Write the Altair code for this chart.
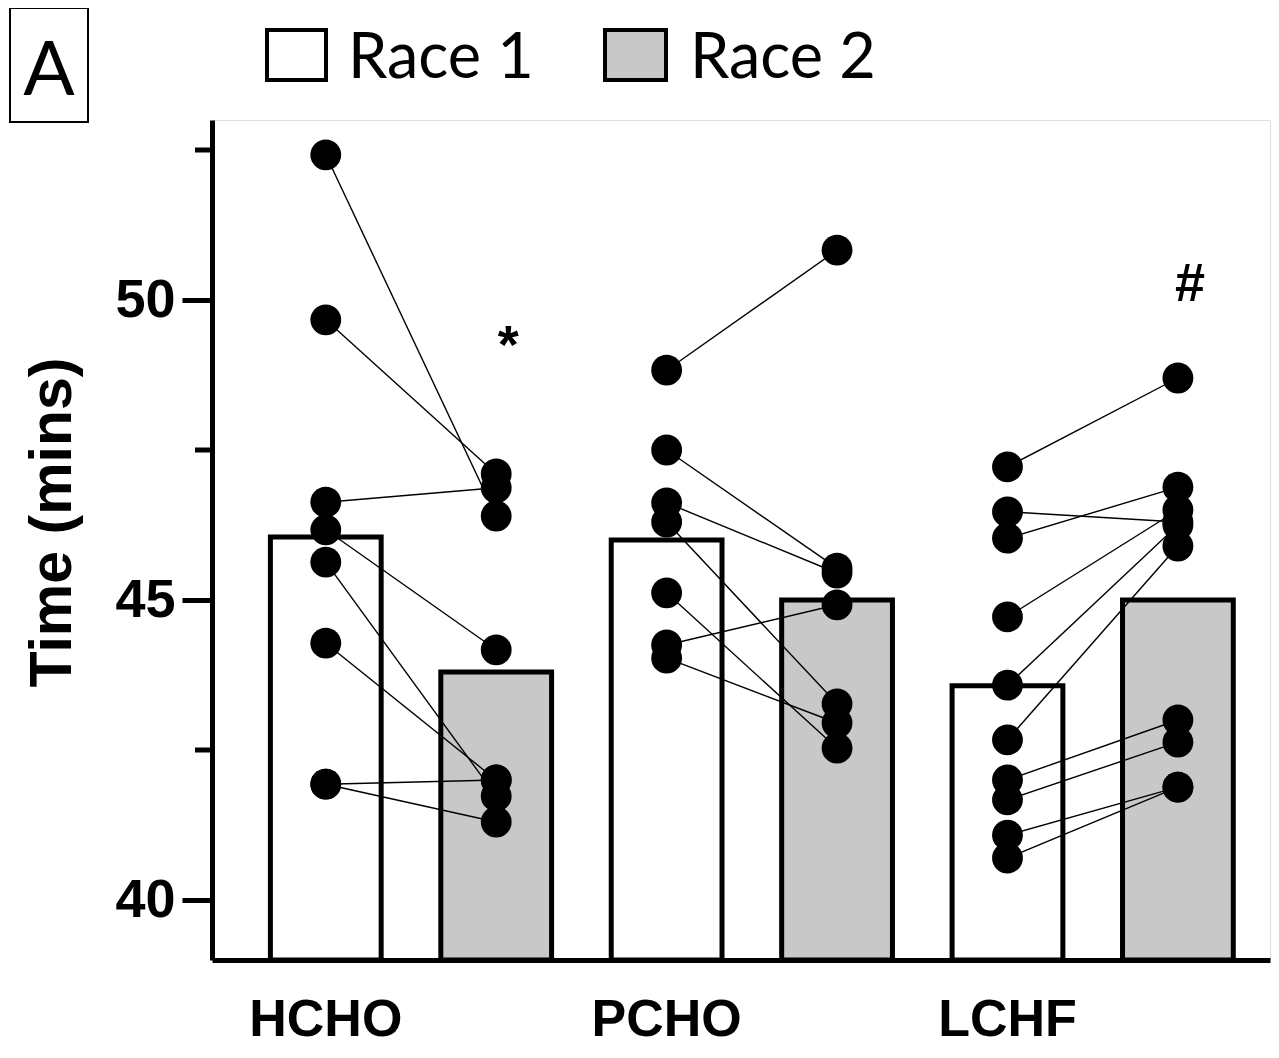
import altair as alt
import pandas as pd

diets = ["HCHO", "PCHO", "LCHF"]
races = ["Race 1", "Race 2"]

# bar heights (group means)
bar_r1 = [46.05, 46.0, 43.57]
bar_r2 = [43.8, 45.0, 45.0]

# individual participants (Race 1 value, paired Race 2 value)
hcho_r1 = [52.42, 49.67, 46.63, 46.17, 45.63, 44.28, 41.93, 41.93]
hcho_r2 = [46.40, 47.10, 46.87, 44.17, 41.73, 42.00, 42.00, 41.30]
pcho_r1 = [48.83, 47.50, 46.62, 46.30, 45.12, 44.25, 44.03]
pcho_r2 = [50.83, 45.53, 45.45, 43.27, 42.53, 44.92, 42.95]
lchf_r1 = [47.22, 46.47, 46.03, 44.72, 43.58, 42.67, 42.00, 41.67, 41.08, 40.70]
lchf_r2 = [48.70, 46.30, 46.88, 46.50, 46.25, 45.90, 43.00, 42.63, 41.88, 41.88]

ann_slot = ["HCHO|Race 2", "LCHF|Race 2"]
ann_text = ["*", "#"]
ann_y = [48.95, 49.98]

major_ticks = [40, 45, 50]
minor_ticks = [42.5, 47.5, 52.5]

slots = [f"{d}|{r}" for d in diets for r in races]

bars = pd.DataFrame({
    "slot": slots,
    "race": [r for d in diets for r in races],
    "value": [v for pair in zip(bar_r1, bar_r2) for v in pair],
})

rows = []
for d, r1, r2 in [("HCHO", hcho_r1, hcho_r2), ("PCHO", pcho_r1, pcho_r2), ("LCHF", lchf_r1, lchf_r2)]:
    for i, (a, b) in enumerate(zip(r1, r2)):
        pid = f"{d}{i}"
        rows.append({"pid": pid, "slot": f"{d}|Race 1", "value": a})
        rows.append({"pid": pid, "slot": f"{d}|Race 2", "value": b})
pts = pd.DataFrame(rows)

ann = pd.DataFrame({"slot": ann_slot, "txt": ann_text, "value": ann_y})
minor = pd.DataFrame({"value": minor_ticks})
one = pd.DataFrame({"k": [0]})

xscale = alt.Scale(domain=slots, paddingInner=0.35, paddingOuter=0.279, align=0.614)
yscale = alt.Scale(domain=[39, 53], nice=False, zero=False)

label_expr = "indexof(datum.value, 'Race 1') >= 0 ? split(datum.value, '|')[0] : ''"

x_enc = alt.X("slot:N", scale=xscale, sort=slots,
              axis=alt.Axis(title=None, labelExpr=label_expr, ticks=False,
                            domain=True, domainWidth=5, domainColor="black",
                            labelAngle=0, labelFont="Liberation Sans", labelFontWeight="bold",
                            labelFontSize=52, labelColor="black", labelPadding=34,
                            labelBaseline="top"))

y_enc = alt.Y("value:Q", scale=yscale,
              axis=alt.Axis(title="Time (mins)", values=major_ticks, format="d", grid=False,
                            tickSize=30, tickWidth=5, tickColor="black",
                            domainWidth=5, domainColor="black",
                            labelFont="Liberation Sans", labelFontWeight="bold",
                            labelFontSize=54, labelColor="black", labelPadding=7,
                            titleFont="Liberation Sans", titleFontWeight="bold",
                            titleFontSize=59, titleColor="black",
                            titleX=-142, titleY=402, titleBaseline="alphabetic",
                            titleAngle=270, titleAlign="center"))

bar_layer = alt.Chart(bars).mark_bar(stroke="black", strokeWidth=5).encode(
    x=x_enc,
    y=y_enc,
    y2=alt.datum(39),
    fill=alt.Fill("race:N", scale=alt.Scale(domain=races, range=["white", "#c8c8c8"]), legend=None),
)

line_layer = alt.Chart(pts).mark_line(color="black", strokeWidth=1.4).encode(
    x=alt.X("slot:N", scale=xscale, sort=slots),
    y=alt.Y("value:Q", scale=yscale),
    detail="pid:N",
)

point_layer = alt.Chart(pts).mark_circle(color="black", opacity=1, size=950).encode(
    x=alt.X("slot:N", scale=xscale, sort=slots),
    y=alt.Y("value:Q", scale=yscale),
)

ann_layer = alt.Chart(ann).mark_text(font="Liberation Sans", fontSize=54, fontWeight="bold",
                                     color="black", baseline="alphabetic", align="center",
                                     dx=12).encode(
    x=alt.X("slot:N", scale=xscale, sort=slots),
    y=alt.Y("value:Q", scale=yscale),
    text="txt:N",
)

minor_layer = alt.Chart(minor).mark_rule(color="black", strokeWidth=5).encode(
    x=alt.value(-17), x2=alt.value(0),
    y=alt.Y("value:Q", scale=yscale),
)

# legend (drawn manually)
leg1_box = alt.Chart(one).mark_rect(fill="white", stroke="black", strokeWidth=4).encode(
    x=alt.value(55), x2=alt.value(114), y=alt.value(-90), y2=alt.value(-40))
leg2_box = alt.Chart(one).mark_rect(fill="#c8c8c8", stroke="black", strokeWidth=4).encode(
    x=alt.value(393), x2=alt.value(454), y=alt.value(-90), y2=alt.value(-40))
leg1_txt = alt.Chart(one).mark_text(font="Lato", fontSize=63, color="black", align="left",
                                    baseline="alphabetic").encode(
    x=alt.value(136), y=alt.value(-42), text=alt.value("Race 1"))
leg2_txt = alt.Chart(one).mark_text(font="Lato", fontSize=63, color="black", align="left",
                                    baseline="alphabetic").encode(
    x=alt.value(478), y=alt.value(-42), text=alt.value("Race 2"))

# panel letter
a_box = alt.Chart(one).mark_rect(fill="white", stroke="black", strokeWidth=2).encode(
    x=alt.value(-202), x2=alt.value(-124), y=alt.value(-112), y2=alt.value(2))
a_txt = alt.Chart(one).mark_text(font="Lato", fontSize=76, color="black", align="center",
                                 baseline="alphabetic").encode(
    x=alt.value(-163), y=alt.value(-25), text=alt.value("A"))

chart = alt.layer(
    bar_layer, line_layer, point_layer, ann_layer, minor_layer,
    leg1_box, leg2_box, leg1_txt, leg2_txt, a_box, a_txt,
).properties(
    width=1058, height=840,
    autosize=alt.AutoSizeParams(type="none"),
    padding={"left": 204, "top": 112, "right": 1, "bottom": 88},
).configure_view(stroke=None).configure(background="white")

chart.save("out.html", embed_options={"renderer": "svg", "actions": False})
